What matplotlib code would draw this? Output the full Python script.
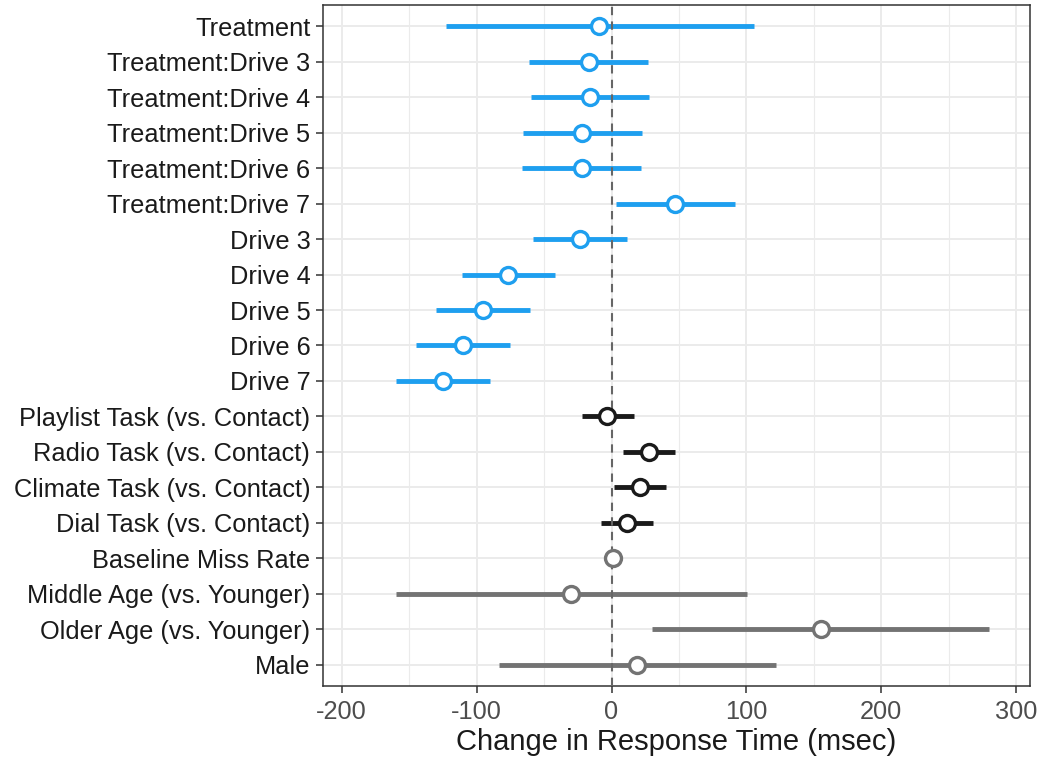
import matplotlib
matplotlib.use("Agg")
import matplotlib.pyplot as plt
from matplotlib.ticker import MultipleLocator

labels = ["Treatment", "Treatment:Drive 3", "Treatment:Drive 4", "Treatment:Drive 5",
          "Treatment:Drive 6", "Treatment:Drive 7", "Drive 3", "Drive 4", "Drive 5",
          "Drive 6", "Drive 7", "Playlist Task (vs. Contact)", "Radio Task (vs. Contact)",
          "Climate Task (vs. Contact)", "Dial Task (vs. Contact)", "Baseline Miss Rate",
          "Middle Age (vs. Younger)", "Older Age (vs. Younger)", "Male"]
estimate = [-9.3, -17, -16, -22.2, -22, 47.3, -23, -77, -95.4, -109.8, -124.9,
            -3.3, 27.5, 21, 11.4, 1.1, -29.7, 155.2, 18.9]
lower = [-123, -61, -60, -65.6, -66, 3.4, -58, -111, -130, -144.7, -159.4,
         -22.1, 8.7, 1.8, -7.8, 0.5, -159.4, 30.3, -83.5]
upper = [105.6, 27, 27.8, 22.3, 22, 91.5, 11.4, -41.7, -60.5, -75.2, -89.9,
         16.5, 47.3, 40.5, 30.9, 1.7, 100.7, 279.8, 121.6]
group = ["drive"] * 11 + ["task"] * 4 + ["other"] * 4
xticks = [-200, -100, 0, 100, 200, 300]

colors = {"drive": "#1E9FEF", "task": "#1A1A1A", "other": "#737373"}

plt.rcParams['font.family'] = ['Liberation Sans', 'DejaVu Sans']

fig = plt.figure(figsize=(10.38, 7.65), dpi=100)
ax = fig.add_axes([0.311, 0.1033, 0.681, 0.8902])

n = len(labels)
ypos = list(range(n - 1, -1, -1))

for y, lo, hi, g in zip(ypos, lower, upper, group):
    ax.plot([lo, hi], [y, y], color=colors[g], lw=3.5, solid_capstyle='butt', zorder=3)

ax.axvline(0, color="#666666", lw=1.5, ls=(0, (4, 3)), zorder=4)

for y, est, g in zip(ypos, estimate, group):
    ax.plot([est], [y], marker='o', ms=11.5, mfc='white', mec=colors[g], mew=2.4,
            zorder=5, ls='none')

ax.set_xlim(-214, 310)
ax.set_ylim(-0.6, n - 1 + 0.6)
ax.set_yticks(ypos)
ax.set_yticklabels(labels)
ax.xaxis.set_minor_locator(MultipleLocator(50))
ax.set_xticks(xticks)
ax.set_xticklabels([str(v) for v in xticks])

ax.grid(True, which='major', color='#EBEBEB', lw=1.4, zorder=0)
ax.grid(True, which='minor', axis='x', color='#EBEBEB', lw=0.8, zorder=0)
ax.set_axisbelow(True)

ax.tick_params(axis='both', which='major', length=5, width=1.1, color='#333333', labelsize=18.3)
ax.tick_params(axis='x', which='minor', length=0)
ax.tick_params(axis='y', labelcolor='#1A1A1A', pad=4)
ax.tick_params(axis='x', labelcolor='#4D4D4D', pad=5)
for s in ax.spines.values():
    s.set_color('#333333')
    s.set_linewidth(1.1)

ax.set_xlabel("Change in Response Time (msec)", fontsize=21, color='#1A1A1A', labelpad=3)

fig.savefig("out.png", dpi=100)
